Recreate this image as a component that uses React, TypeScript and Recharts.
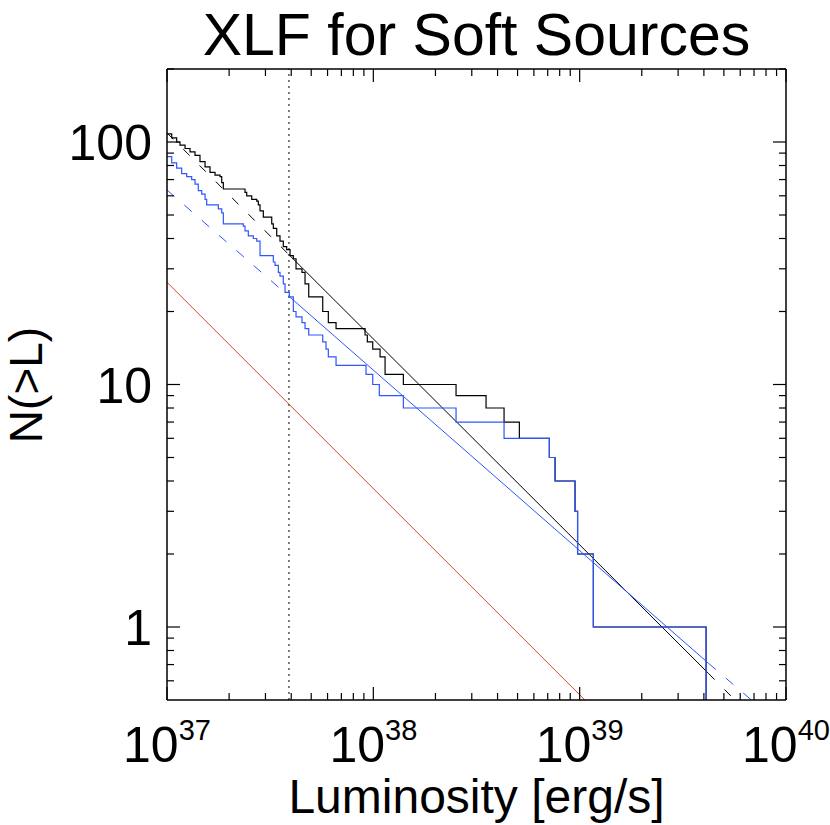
import { Label, Line, LineChart, ReferenceLine, XAxis, YAxis } from 'recharts'

const FONT = '"Liberation Sans", Arial, Helvetica, sans-serif'
const E37 = 1e37

// cumulative counts, black curve: luminosity (1e37 erg/s) where N(>L) steps down, value after the step
const lumBlack = [
  1.0, 1.054, 1.114, 1.156, 1.223, 1.293, 1.367, 1.445, 1.529, 1.616, 1.709, 1.807, 1.842, 1.875, 2.388, 2.434,
  2.574, 2.722, 2.771, 2.824, 2.93, 3.218, 3.276, 3.402, 3.529, 3.662, 3.803, 3.947, 4.095, 4.22, 4.511, 4.666,
  4.863, 5.685, 6.052, 6.596, 9.118, 9.352, 9.933, 10.78, 11.4, 13.98, 25.17, 35.18, 43.01, 51.02, 71.3, 76.0,
  95.0, 97.7, 116.5, 410,
]
const countBlack = [
  108, 104, 100, 97, 94, 91, 88, 83, 79, 75, 73, 72, 68, 64, 62, 60, 58, 57, 55, 52, 49, 46, 44, 41, 39, 37, 36, 34,
  33, 30, 29, 26, 23, 20, 18, 17, 16, 15, 14, 13, 11, 10, 9, 8, 7, 6, 5, 4, 3, 2, 1, 0.5,
]

// blue curve
const lumBlue = [
  1.0, 1.054, 1.114, 1.178, 1.246, 1.317, 1.367, 1.418, 1.473, 1.529, 1.557, 1.773, 1.842, 1.875, 2.343, 2.388,
  2.478, 2.62, 2.722, 2.824, 3.276, 3.338, 3.464, 3.529, 3.662, 3.733, 3.916, 4.095, 4.22, 4.511, 4.666, 4.863,
  5.685, 5.898, 6.052, 6.596, 9.218, 9.933, 10.69, 13.98, 25.17, 43.01, 71.3, 76.0, 95.0, 97.7, 116.5, 410,
]
const countBlue = [
  87, 82, 78, 74, 72, 70, 67, 63, 61, 58, 55, 53, 51, 46, 45, 43, 41, 40, 39, 34, 32, 31, 29, 28, 26, 24, 23, 20, 19,
  18, 17, 16, 15, 14, 13, 12, 11, 10, 9, 8, 7, 6, 5, 4, 3, 2, 1, 0.5,
]

// power-law fits: end points (1e37 erg/s, N)
const fitBlackL = [1.0, 3.9, 420, 540]
const fitBlackN = [109, 34.3, 0.645, 0.52]
const fitBlueL = [1.0, 3.9, 420, 680]
const fitBlueN = [63.4, 23.1, 0.71, 0.5]
const fitRedL = [1.0, 106]
const fitRedN = [26.4, 0.5]

const lumCut = 3.9 // vertical dotted line, 1e37 erg/s

const xDecades = [1e37, 1e38, 1e39]
const yDecades = [0.1, 1, 10, 100]
const minorSteps = [1, 2, 3, 4, 5, 6, 7, 8, 9]

const xTicks = [...xDecades.flatMap((d) => minorSteps.map((s) => s * d)), 1e40]
const yTicks = yDecades.flatMap((d) => minorSteps.map((s) => s * d)).filter((v) => v >= 0.55 && v <= 200)

const toRows = (ls: number[], ns: number[]) => ls.map((l, i) => ({ L: l * E37, N: ns[i] }))

const blackRows = toRows(lumBlack, countBlack)
const blueRows = toRows(lumBlue, countBlue)
const blackFitLeft = toRows(fitBlackL.slice(0, 2), fitBlackN.slice(0, 2))
const blackFitMid = toRows(fitBlackL.slice(1, 3), fitBlackN.slice(1, 3))
const blackFitRight = toRows(fitBlackL.slice(2), fitBlackN.slice(2))
const blueFitLeft = toRows(fitBlueL.slice(0, 2), fitBlueN.slice(0, 2))
const blueFitMid = toRows(fitBlueL.slice(1, 3), fitBlueN.slice(1, 3))
const blueFitRight = toRows(fitBlueL.slice(2), fitBlueN.slice(2))
const redFit = toRows(fitRedL, fitRedN)

const BLUE = '#2f55ff'
const RED = '#d2472c'
const MAJOR = 13
const MINOR = 7

const isMajor = (v: number) => Math.abs(Math.log10(v) - Math.round(Math.log10(v))) < 1e-6

function BottomTick({ x, y, payload }: any) {
  const v = payload.value
  const major = isMajor(v)
  return (
    <g>
      <line x1={x} x2={x} y1={y} y2={y - (major ? MAJOR : MINOR)} stroke="#000" strokeWidth={1.2} />
      {major && (
        <text x={x} y={y + 62} textAnchor="middle" fontSize={50} fontFamily={FONT} fill="#000">
          10
          <tspan dy={-22} fontSize={29}>
            {Math.round(Math.log10(v))}
          </tspan>
        </text>
      )}
    </g>
  )
}

function TopTick({ x, y, payload }: any) {
  const major = isMajor(payload.value)
  return <line x1={x} x2={x} y1={y} y2={y + (major ? MAJOR : MINOR)} stroke="#000" strokeWidth={1.2} />
}

function LeftTick({ x, y, payload }: any) {
  const v = payload.value
  const major = isMajor(v)
  return (
    <g>
      <line x1={x} x2={x + (major ? MAJOR : MINOR)} y1={y} y2={y} stroke="#000" strokeWidth={1.2} />
      {major && (
        <text x={x - 15} y={y + 18} textAnchor="end" fontSize={50} fontFamily={FONT} fill="#000">
          {v}
        </text>
      )}
    </g>
  )
}

function RightTick({ x, y, payload }: any) {
  const major = isMajor(payload.value)
  return <line x1={x} x2={x - (major ? MAJOR : MINOR)} y1={y} y2={y} stroke="#000" strokeWidth={1.2} />
}

export default function App() {
  return (
    <div style={{ position: 'absolute', left: 0, top: 0, background: '#fff' }}>
      <LineChart width={830} height={825} margin={{ top: 68, right: 43, bottom: 124, left: 107 }}>
        <XAxis
          xAxisId={0}
          dataKey="L"
          type="number"
          scale="log"
          domain={[1e37, 1e40]}
          allowDataOverflow
          ticks={xTicks}
          interval={0}
          tickSize={0}
          tickMargin={0}
          tickLine={false}
          tick={<BottomTick />}
          height={1}
          axisLine={{ stroke: '#000', strokeWidth: 1.5 }}
        >
          <Label
            content={({ viewBox }: any) => (
              <text
                x={viewBox.x + viewBox.width / 2}
                y={813}
                textAnchor="middle"
                fontSize={48}
                fontFamily={FONT}
                fill="#000"
              >
                Luminosity [erg/s]
              </text>
            )}
          />
        </XAxis>
        <XAxis
          xAxisId="top"
          orientation="top"
          dataKey="L"
          type="number"
          scale="log"
          domain={[1e37, 1e40]}
          allowDataOverflow
          ticks={xTicks}
          interval={0}
          tickSize={0}
          tickMargin={0}
          tickLine={false}
          tick={<TopTick />}
          height={1}
          axisLine={{ stroke: '#000', strokeWidth: 1.5 }}
        >
          <Label
            content={({ viewBox }: any) => (
              <text
                x={viewBox.x + viewBox.width / 2}
                y={55}
                textAnchor="middle"
                fontSize={59}
                fontFamily={FONT}
                fill="#000"
              >
                XLF for Soft Sources
              </text>
            )}
          />
        </XAxis>
        <YAxis
          yAxisId={0}
          type="number"
          scale="log"
          domain={[0.5, 200]}
          allowDataOverflow
          ticks={yTicks}
          interval={0}
          tickSize={0}
          tickMargin={0}
          tickLine={false}
          tick={<LeftTick />}
          width={60}
          axisLine={{ stroke: '#000', strokeWidth: 1.5 }}
        >
          <Label
            content={() => (
              <text
                x={42}
                y={385}
                transform="rotate(-90, 42, 385)"
                textAnchor="middle"
                fontSize={46}
                fontFamily={FONT}
                fill="#000"
              >
                N(&gt;L)
              </text>
            )}
          />
        </YAxis>
        <YAxis
          yAxisId="right"
          orientation="right"
          type="number"
          scale="log"
          domain={[0.5, 200]}
          allowDataOverflow
          ticks={yTicks}
          interval={0}
          tickSize={0}
          tickMargin={0}
          tickLine={false}
          tick={<RightTick />}
          width={1}
          axisLine={{ stroke: '#000', strokeWidth: 1.5 }}
        />

        <ReferenceLine x={lumCut * E37} stroke="#000" strokeWidth={1} strokeDasharray="2 4" />

        <Line data={redFit} dataKey="N" stroke={RED} strokeWidth={1} dot={false} activeDot={false} isAnimationActive={false} />

        <Line data={blackRows} dataKey="N" type="stepAfter" stroke="#000" strokeWidth={1.2} dot={false} activeDot={false} isAnimationActive={false} />
        <Line data={blackFitLeft} dataKey="N" stroke="#000" strokeWidth={1} strokeDasharray="9 14" dot={false} activeDot={false} isAnimationActive={false} />
        <Line data={blackFitMid} dataKey="N" stroke="#000" strokeWidth={1} dot={false} activeDot={false} isAnimationActive={false} />
        <Line data={blackFitRight} dataKey="N" stroke="#000" strokeWidth={1} strokeDasharray="9 14" dot={false} activeDot={false} isAnimationActive={false} />

        <Line data={blueRows} dataKey="N" type="stepAfter" stroke={BLUE} strokeWidth={1.2} dot={false} activeDot={false} isAnimationActive={false} />
        <Line data={blueFitLeft} dataKey="N" stroke={BLUE} strokeWidth={1} strokeDasharray="10 13" dot={false} activeDot={false} isAnimationActive={false} />
        <Line data={blueFitMid} dataKey="N" stroke={BLUE} strokeWidth={1} dot={false} activeDot={false} isAnimationActive={false} />
        <Line data={blueFitRight} dataKey="N" stroke={BLUE} strokeWidth={1} strokeDasharray="10 13" dot={false} activeDot={false} isAnimationActive={false} />
      </LineChart>
    </div>
  )
}
